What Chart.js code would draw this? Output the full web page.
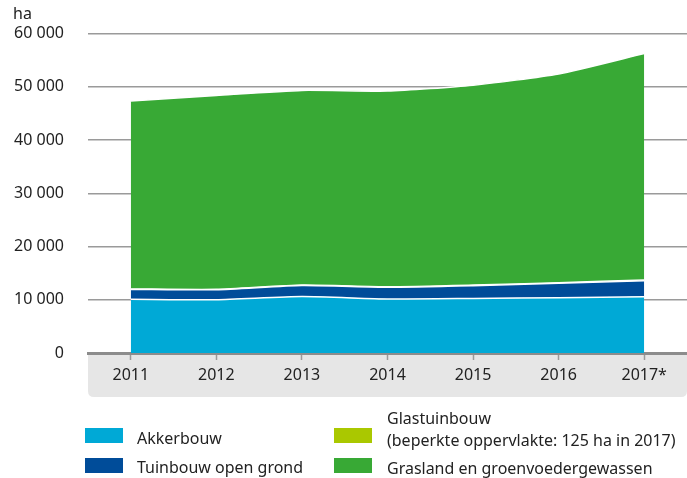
<!DOCTYPE html>
<html>
<head>
<meta charset="utf-8">
<script src="https://cdn.jsdelivr.net/npm/chart.js@4"></script>
<style>
  body { margin: 0; background: #fff; font-family: "Noto Sans", sans-serif; color: #222; }
  #wrap { position: relative; width: 687px; height: 478px; }
  #chart { position: absolute; left: 0; top: 0; }
  .txt { position: absolute; font-size: 17px; line-height: 22px; white-space: nowrap; transform: scaleX(0.94); transform-origin: 0 0; }
  .ha { position: absolute; font-size: 16px; line-height: 20px; }
  .box { position: absolute; width: 38px; height: 15px; }
</style>
</head>
<body>
<div id="wrap">
  <canvas id="chart" width="687" height="478"></canvas>
  <div class="ha" style="left:13px; top:3px;">ha</div>
  <div class="box" style="left:85px; top:428px; background:#00a9d6;"></div>
  <div class="txt" style="left:137px; top:427px;">Akkerbouw</div>
  <div class="box" style="left:85px; top:458px; background:#004c99;"></div>
  <div class="txt" style="left:137px; top:456px;">Tuinbouw open grond</div>
  <div class="box" style="left:334px; top:428px; background:#aac800;"></div>
  <div class="txt" style="left:387px; top:407px;">Glastuinbouw<br>(beperkte oppervlakte: 125 ha in 2017)</div>
  <div class="box" style="left:334px; top:458px; background:#38a935;"></div>
  <div class="txt" style="left:387px; top:457px;">Grasland en groenvoedergewassen</div>
</div>
<script>
const years = ['2011', '2012', '2013', '2014', '2015', '2016', '2017*'];
const akkerbouw = [10100, 10000, 10600, 10150, 10250, 10400, 10550];
const tuinbouw = [1850, 1880, 2080, 2200, 2400, 2700, 3030];
const glastuinbouw = [90, 90, 100, 100, 110, 110, 125];
const grasland = [35300, 36400, 36550, 36750, 37550, 39200, 42550];
const yTicks = [0, 10000, 20000, 30000, 40000, 50000, 60000];

// grey band behind the x axis labels
const axisBand = {
  id: 'axisBand',
  beforeDraw(chart) {
    const ctx = chart.ctx;
    const a = chart.chartArea;
    const x0 = a.left, x1 = a.right, y0 = a.bottom, y1 = a.bottom + 44, r = 6;
    ctx.save();
    ctx.fillStyle = '#e6e6e6';
    ctx.beginPath();
    ctx.moveTo(x0, y0);
    ctx.lineTo(x1, y0);
    ctx.lineTo(x1, y1 - r);
    ctx.quadraticCurveTo(x1, y1, x1 - r, y1);
    ctx.lineTo(x0 + r, y1);
    ctx.quadraticCurveTo(x0, y1, x0, y1 - r);
    ctx.closePath();
    ctx.fill();
    ctx.restore();
  }
};

function area(data, color, fill) {
  return {
    data: data,
    backgroundColor: color,
    borderColor: '#ffffff',
    borderWidth: 1.5,
    pointRadius: 0,
    tension: 0.2,
    fill: fill
  };
}

new Chart(document.getElementById('chart'), {
  type: 'line',
  data: {
    labels: years,
    datasets: [
      area(akkerbouw, '#00a9d6', 'origin'),
      area(tuinbouw, '#004c99', '-1'),
      area(glastuinbouw, '#aac800', '-1'),
      area(grasland, '#38a935', '-1')
    ]
  },
  options: {
    responsive: false,
    animation: false,
    layout: { padding: { top: 33, bottom: 81, left: 0, right: 0 } },
    plugins: { legend: { display: false }, tooltip: { enabled: false } },
    scales: {
      x: {
        offset: true,
        afterFit(scale) { scale.height = 44; },
        grid: { offset: false, drawOnChartArea: false, drawTicks: true, tickLength: 7, tickColor: '#9a9a9a', tickWidth: 1.5 },
        border: { display: true, color: '#8c8c8c', width: 3 },
        ticks: { color: '#222', font: { family: 'Noto Sans', size: 16 }, padding: 6, maxRotation: 0 }
      },
      y: {
        stacked: true,
        min: 0,
        max: 60000,
        afterFit(scale) { scale.width = 88; },
        afterBuildTicks(scale) { scale.ticks = yTicks.map(v => ({ value: v })); },
        grid: { color: '#9a9a9a', lineWidth: 1.5, drawTicks: false },
        border: { display: false },
        ticks: {
          color: '#222',
          font: { family: 'Noto Sans', size: 16 },
          padding: 24,
          callback: v => String(v).replace(/\B(?=(\d{3})+(?!\d))/g, ' ')
        }
      }
    }
  },
  plugins: [axisBand]
});
</script>
</body>
</html>
